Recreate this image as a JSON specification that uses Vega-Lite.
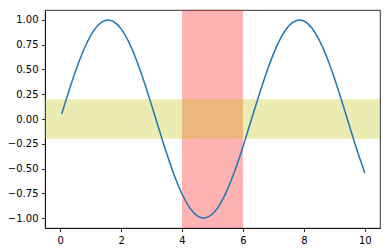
{
  "$schema": "https://vega.github.io/schema/vega-lite/v6.json",
  "width": 335,
  "height": 218,
  "autosize": "none",
  "padding": {"left": 45, "top": 10, "right": 10, "bottom": 24},
  "config": {
    "view": {"stroke": "#000", "strokeWidth": 0.8},
    "axis": {
      "labelFont": "DejaVu Sans", "labelFontSize": 10, "labelColor": "#000",
      "tickColor": "#000", "tickSize": 3.5, "tickWidth": 0.8,
      "domainColor": "#000", "domainWidth": 0.8, "grid": false, "title": null,
      "labelPadding": 3.5, "labelOverlap": false, "labelFlush": false
    }
  },
  "datasets": {
    "curve": [
      {"x": 0.05, "y": 0.0500}, {"x": 0.25, "y": 0.2474}, {"x": 0.5, "y": 0.4794}, {"x": 0.75, "y": 0.6816},
      {"x": 1.0, "y": 0.8415}, {"x": 1.25, "y": 0.9490}, {"x": 1.5, "y": 0.9975}, {"x": 1.75, "y": 0.9840},
      {"x": 2.0, "y": 0.9093}, {"x": 2.25, "y": 0.7781}, {"x": 2.5, "y": 0.5985}, {"x": 2.75, "y": 0.3817},
      {"x": 3.0, "y": 0.1411}, {"x": 3.25, "y": -0.1082}, {"x": 3.5, "y": -0.3508}, {"x": 3.75, "y": -0.5716},
      {"x": 4.0, "y": -0.7568}, {"x": 4.25, "y": -0.8950}, {"x": 4.5, "y": -0.9775}, {"x": 4.75, "y": -0.9993},
      {"x": 5.0, "y": -0.9589}, {"x": 5.25, "y": -0.8589}, {"x": 5.5, "y": -0.7055}, {"x": 5.75, "y": -0.5083},
      {"x": 6.0, "y": -0.2794}, {"x": 6.25, "y": -0.0332}, {"x": 6.5, "y": 0.2151}, {"x": 6.75, "y": 0.4500},
      {"x": 7.0, "y": 0.6570}, {"x": 7.25, "y": 0.8231}, {"x": 7.5, "y": 0.9380}, {"x": 7.75, "y": 0.9946},
      {"x": 8.0, "y": 0.9894}, {"x": 8.25, "y": 0.9228}, {"x": 8.5, "y": 0.7985}, {"x": 8.75, "y": 0.6247},
      {"x": 9.0, "y": 0.4121}, {"x": 9.25, "y": 0.1743}, {"x": 9.5, "y": -0.0752}, {"x": 9.75, "y": -0.3195},
      {"x": 10.0, "y": -0.5440}
    ],
    "vspan": [{"x0": 4, "x1": 6}],
    "hspan": [{"y0": -0.2, "y1": 0.2}]
  },
  "layer": [
    {
      "data": {"name": "vspan"},
      "mark": {"type": "rect", "color": "#ff0000", "opacity": 0.3},
      "encoding": {
        "x": {"field": "x0", "type": "quantitative", "scale": {"domain": [-0.4975, 10.4975], "nice": false, "zero": false},
              "axis": {"values": [0, 2, 4, 6, 8, 10], "format": "d"}},
        "x2": {"field": "x1"}
      }
    },
    {
      "data": {"name": "hspan"},
      "mark": {"type": "rect", "color": "#bfbf00", "opacity": 0.3},
      "encoding": {
        "y": {"field": "y0", "type": "quantitative", "scale": {"domain": [-1.1, 1.1], "nice": false, "zero": false},
              "axis": {"values": [-1, -0.75, -0.5, -0.25, 0, 0.25, 0.5, 0.75, 1], "format": ".2f"}},
        "y2": {"field": "y1"}
      }
    },
    {
      "data": {"name": "curve"},
      "mark": {"type": "line", "color": "#1f77b4", "strokeWidth": 1.5, "interpolate": "natural"},
      "encoding": {
        "x": {"field": "x", "type": "quantitative", "scale": {"domain": [-0.4975, 10.4975], "nice": false, "zero": false},
              "axis": {"values": [0, 2, 4, 6, 8, 10], "format": "d"}},
        "y": {"field": "y", "type": "quantitative", "scale": {"domain": [-1.1, 1.1], "nice": false, "zero": false},
              "axis": {"values": [-1, -0.75, -0.5, -0.25, 0, 0.25, 0.5, 0.75, 1], "format": ".2f"}}
      }
    }
  ]
}
